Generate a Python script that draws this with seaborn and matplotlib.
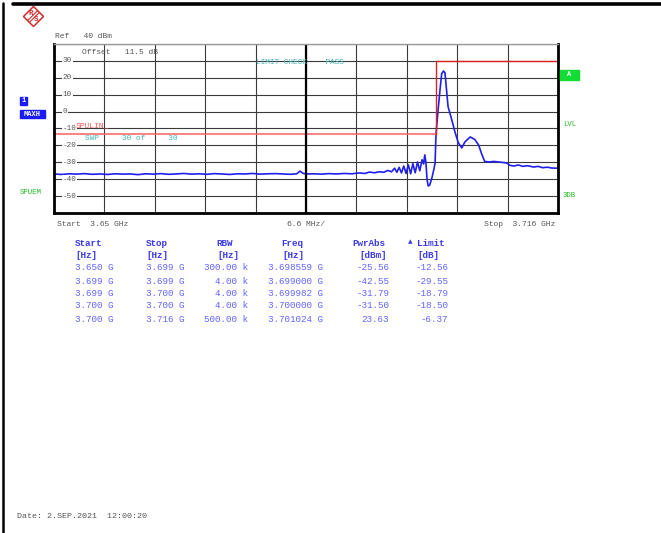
import matplotlib
matplotlib.use('Agg')
import matplotlib.pyplot as plt
import seaborn as sns
from matplotlib.patches import Rectangle, Polygon
from matplotlib.lines import Line2D

# spectrum trace (MHz above 3.65 GHz, dBm)
trace_mhz = [0, 1, 2, 3, 4, 5, 6, 7, 8, 9, 10, 11, 12, 13, 14, 15, 16, 17, 18, 19,
             20, 21, 22, 23, 24, 25, 26, 27, 28, 29, 30, 31, 31.8, 32.2, 32.6, 33,
             34, 35, 36, 37, 38, 39, 40, 40.7, 41.3, 42, 42.6, 43.2, 43.7, 44.2,
             44.6, 44.9, 45.2, 45.5, 45.8, 46.1, 46.4, 46.7, 47.0, 47.3, 47.6, 47.9,
             48.2, 48.4, 48.56, 48.7, 48.85, 49.0, 49.2, 49.5, 49.75, 49.9, 50.03,
             50.3, 50.55, 50.77, 51.0, 51.2, 51.4, 51.6, 52.1, 52.5, 52.95, 53.4,
             53.8, 54.5, 55.1, 55.6, 56.0, 56.4, 57.0, 57.6, 58.4, 59.3, 59.7, 60.2,
             60.8, 61.4, 62.0, 62.8, 63.4, 64.0, 64.6, 65.2, 66.0]
trace_dbm = [-36.9, -37.2, -36.8, -37.0, -36.7, -37.1, -36.9, -37.2, -36.8, -37.0,
             -36.9, -37.3, -36.8, -37.0, -36.7, -37.1, -36.9, -36.6, -37.0, -36.8,
             -37.1, -36.7, -36.9, -37.2, -36.8, -36.9, -36.6, -37.0, -36.8, -36.7,
             -36.9, -37.1, -36.8, -35.2, -36.5, -36.9, -36.8, -37.0, -36.7, -36.9,
             -36.6, -36.8, -36.3, -36.6, -35.8, -36.2, -35.6, -35.9, -34.8, -35.6,
             -33.5, -35.9, -33.0, -36.3, -32.2, -36.6, -31.5, -36.8, -30.8, -36.2,
             -29.8, -35.0, -28.5, -31.0, -25.6, -30.0, -40.0, -44.0, -43.5, -39.0,
             -34.0, -30.5, -13.0, 1.0, 13.0, 22.5, 24.0, 23.0, 13.0, 3.0, -5.0,
             -12.0, -18.5, -21.5, -18.0, -15.0, -16.5, -19.7, -25.0, -29.5, -29.8,
             -29.5, -29.9, -30.4, -31.8, -32.2, -31.6, -32.4, -32.0, -32.8, -32.4,
             -33.2, -32.9, -33.4, -33.5]

# limit line
limit_ghz = [3.650, 3.700, 3.700, 3.716]
limit_dbm = [-13, -13, 30, 30]

# result table
hdr = ['Start', 'Stop', 'RBW', 'Freq', 'PwrAbs', 'Limit']
units = ['[Hz]', '[Hz]', '[Hz]', '[Hz]', '[dBm]', '[dB]']
col_start = ['3.650 G', '3.699 G', '3.699 G', '3.700 G', '3.700 G']
col_stop = ['3.699 G', '3.699 G', '3.700 G', '3.700 G', '3.716 G']
col_rbw = ['300.00 k', '4.00 k', '4.00 k', '4.00 k', '500.00 k']
col_freq = ['3.698559 G', '3.699000 G', '3.699982 G', '3.700000 G', '3.701024 G']
col_pwr = ['-25.56', '-42.55', '-31.79', '-31.50', '23.63']
col_lim = ['-12.56', '-29.55', '-18.79', '-18.50', '-6.37']

y_labels = [30, 20, 10, 0, -10, -20, -30, -40, -50]

W, H = 661, 533
sns.set_style('white')
plt.rcParams['font.family'] = ['Liberation Mono', 'DejaVu Sans Mono']

fig = plt.figure(figsize=(W / 100, H / 100), dpi=100)


def fx(x):
    return x / W


def fy(y):
    return 1 - y / H


def ftext(x, y, s, size=6.0, color='#555555', **kw):
    fig.text(fx(x), fy(y), s, fontsize=size, color=color, va='center', **kw)


ax = fig.add_axes([fx(54), fy(213), 504 / W, 169 / H])
freq_ghz = [3.65 + m / 1000 for m in trace_mhz]
sns.lineplot(x=freq_ghz, y=trace_dbm, ax=ax, color='#1f1fee', lw=1.2,
             estimator=None, sort=False)
# lower part of the limit is drawn lighter than the upper part
sns.lineplot(x=limit_ghz[:2], y=limit_dbm[:2], ax=ax, color='#ff6060', lw=1.1,
             estimator=None, sort=False)
sns.lineplot(x=limit_ghz[1:], y=limit_dbm[1:], ax=ax, color='#e02020', lw=1.0,
             estimator=None, sort=False)

ax.set_xlim(3.650, 3.716)
ax.set_ylim(-60, 40)
ax.set_xticks([3.650 + k * 0.0066 for k in range(11)])
ax.set_yticks(range(-60, 41, 10))
ax.set_xticklabels([])
ax.set_yticklabels([])
ax.tick_params(length=0)
ax.grid(True, color='#3a3a3a', lw=0.8)
ax.axvline(3.683, color='black', lw=1.6)
for side in ['left', 'bottom', 'right']:
    ax.spines[side].set_color('black')
    ax.spines[side].set_linewidth(2)
ax.spines['top'].set_color('#999999')
ax.spines['top'].set_linewidth(1)

ytr = ax.get_yaxis_transform()
for v in y_labels:
    ax.text(0.017, v, str(v), transform=ytr, fontsize=5.5, color='#555555',
            va='center', ha='left',
            bbox=dict(facecolor='white', edgecolor='none', pad=0.6))

# text on the screen
ftext(55, 36, 'Ref   40 dBm', size=5.8)
ftext(82, 52, 'Offset   11.5 dB', size=5.8)
ftext(256, 62, 'LIMIT CHECK    PASS', size=5.6, color='#45b5b5')
ftext(76, 126, 'SPULIN_', size=5.8, color='#ff5a5a')
ftext(85, 138, 'SWP     30 of     30', size=5.6, color='#45b5b5')
ftext(57, 225, 'Start  3.65 GHz', size=5.8)
ftext(306, 225, '6.6 MHz/', size=5.8, ha='center')
ftext(555, 224, 'Stop  3.716 GHz', size=5.8, ha='right')
ftext(17, 517, 'Date: 2.SEP.2021  12:00:20', size=6.0)
ftext(20, 193, 'SPUEM', size=5.2, color='#22bb22')
ftext(563, 124, 'LVL', size=5.2, color='#22bb22')
ftext(563, 196, '3DB', size=5.2, color='#22bb22')

# coloured boxes
for (x0, y0, x1, y1, c, s) in [(20, 97, 27, 105, '#1a1aff', '1'),
                               (20, 110, 45, 118, '#1a1aff', 'MAXH'),
                               (560, 70, 579, 80, '#11dd33', 'A')]:
    fig.add_artist(Rectangle((fx(x0), fy(y1)), (x1 - x0) / W, (y1 - y0) / H,
                             transform=fig.transFigure, color=c))
    ftext((x0 + x1) / 2, (y0 + y1) / 2, s, size=5.0, color='white',
          ha='center', fontweight='bold')

# table
head_c = '#3a3ae8'
val_c = '#6464ff'
ts = 6.7
col_x = [75, 146, 216, 281, 352, 417]
unit_x = [75, 146, 217, 282, 359, 417]
for i in range(6):
    ftext(col_x[i], 243, hdr[i], size=ts, color=head_c, fontweight='bold')
    ftext(unit_x[i], 256, units[i], size=ts, color=head_c, fontweight='bold')
ftext(408, 243, '\u25b2', size=5.5, color=head_c)
row_y = [268, 281, 294, 306, 319]
for r in range(5):
    ftext(75, row_y[r], col_start[r], size=ts, color=val_c)
    ftext(146, row_y[r], col_stop[r], size=ts, color=val_c)
    ftext(248, row_y[r], col_rbw[r], size=ts, color=val_c, ha='right')
    ftext(268, row_y[r], col_freq[r], size=ts, color=val_c)
    ftext(389, row_y[r], col_pwr[r], size=ts, color=val_c, ha='right')
    ftext(448, row_y[r], col_lim[r], size=ts, color=val_c, ha='right')

# frame of the screenshot
fig.add_artist(Line2D([fx(13), 1], [fy(3.5), fy(3.5)], color='black', lw=2.6,
                      transform=fig.transFigure))
fig.add_artist(Line2D([fx(3), fx(3)], [fy(3), 0], color='black', lw=1.8,
                      transform=fig.transFigure))

# R&S logo
lg = fig.add_axes([fx(23), fy(27), 21 / W, 21 / H])
lg.set_xlim(-1.05, 1.05)
lg.set_ylim(-1.05, 1.05)
lg.axis('off')
lg.add_patch(Polygon([(0, 1), (1, 0), (0, -1), (-1, 0)], closed=True,
                     fill=False, edgecolor='#d42a2a', lw=1.1))
for off in [-0.09, 0.09]:
    lg.plot([-0.5 + off, 0.5 + off], [-0.5 - off, 0.5 - off], color='#d42a2a', lw=0.8)
lg.text(-0.22, 0.3, 'R', fontsize=5.5, color='#d42a2a', ha='center', va='center',
        fontweight='bold')
lg.text(0.25, -0.33, 'S', fontsize=5.5, color='#d42a2a', ha='center', va='center',
        fontweight='bold')

fig.savefig('out.png', dpi=100)
